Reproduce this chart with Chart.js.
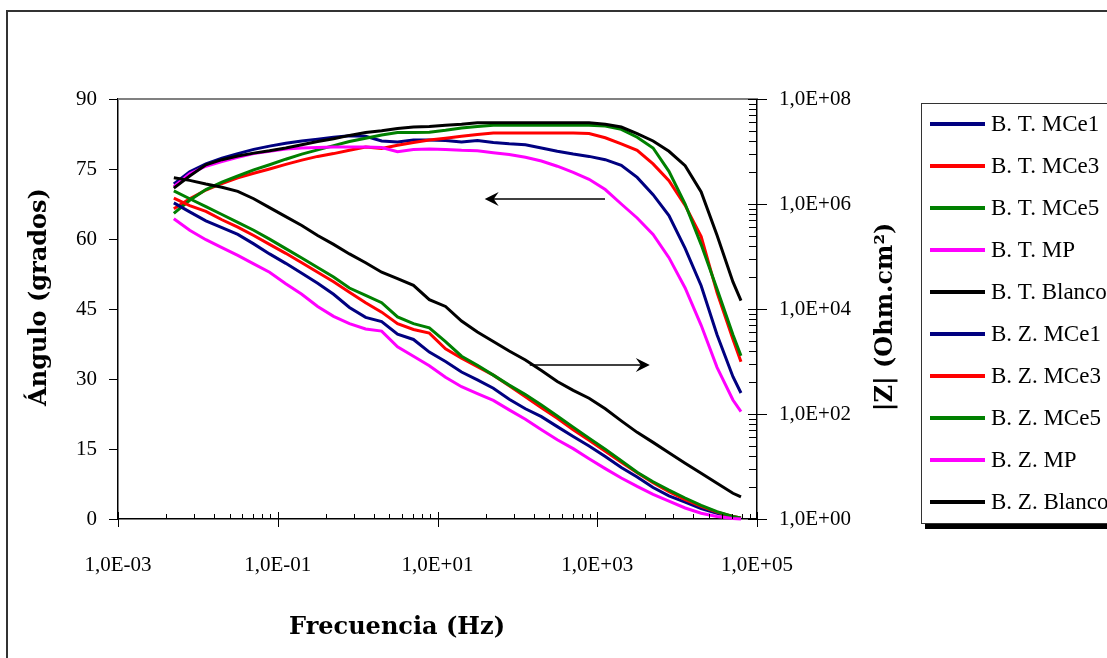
<!DOCTYPE html>
<html>
<head>
<meta charset="utf-8">
<script src="https://cdn.jsdelivr.net/npm/chart.js@4.4.1/dist/chart.umd.min.js"></script>
<style>
  html, body { margin: 0; padding: 0; background: #fff; }
</style>
</head>
<body>
<canvas id="bodeChart" width="1107" height="658"></canvas>
<script>
// frequency (Hz)
const frequency = [0.005, 0.0079, 0.0126, 0.02, 0.0316, 0.05, 0.079, 0.126, 0.2, 0.316,
  0.5, 0.79, 1.26, 2, 3.16, 5, 7.9, 12.6, 20, 31.6,
  50, 79, 126, 200, 316, 500, 790, 1260, 2000, 3160,
  5000, 7900, 12600, 20000, 31600, 50000, 63000];

// phase angle (grados)
const thetaMCe1 = [71.8, 74.4, 76.1, 77.3, 78.3, 79.2, 79.9, 80.5, 81.0, 81.4,
  81.8, 82.1, 82.0, 81.0, 80.8, 81.2, 81.2, 81.1, 80.8, 81.1,
  80.7, 80.4, 80.2, 79.5, 78.8, 78.2, 77.7, 77.0, 75.8, 73.2,
  69.5, 65.0, 58.0, 50.0, 39.5, 30.5, 27.0];
const thetaMCe3 = [66.5, 68.6, 70.5, 71.9, 73.1, 74.1, 75.0, 76.0, 76.9, 77.7,
  78.3, 79.0, 79.7, 79.4, 80.1, 80.7, 81.2, 81.6, 82.0, 82.4,
  82.7, 82.7, 82.7, 82.7, 82.7, 82.7, 82.6, 81.7, 80.4, 79.0,
  76.1, 72.5, 67.2, 60.5, 48.5, 38.5, 33.7];
const thetaMCe5 = [65.5, 68.3, 70.6, 72.2, 73.5, 74.8, 75.9, 77.1, 78.2, 79.1,
  80.0, 80.9, 81.6, 82.3, 82.8, 82.8, 82.9, 83.3, 83.8, 84.1,
  84.4, 84.4, 84.4, 84.4, 84.4, 84.4, 84.4, 84.2, 83.5, 81.8,
  79.5, 74.5, 67.5, 58.8, 49.3, 39.5, 35.0];
const thetaMP = [71.2, 74.0, 75.6, 76.6, 77.5, 78.3, 78.8, 79.3, 79.5, 79.6,
  79.7, 79.7, 79.7, 79.6, 78.7, 79.2, 79.3, 79.2, 79.0, 78.9,
  78.5, 78.1, 77.5, 76.7, 75.6, 74.3, 72.8, 70.6, 67.5, 64.5,
  61.0, 56.0, 49.5, 41.5, 32.5, 25.5, 23.0];
const thetaBlanco = [70.9, 73.5, 75.9, 77.0, 77.8, 78.4, 78.9, 79.5, 80.2, 80.9,
  81.5, 82.2, 82.8, 83.2, 83.7, 84.0, 84.1, 84.4, 84.6, 84.9,
  84.9, 84.9, 84.9, 84.9, 84.9, 84.9, 84.9, 84.6, 84.0, 82.6,
  81.0, 78.8, 75.7, 70.1, 60.8, 50.8, 46.8];

// |Z| (Ohm.cm2)
const zMCe1 = [1.05e6, 7.08e5, 4.79e5, 3.55e5, 2.63e5, 1.74e5, 1.12e5, 7.41e4, 4.79e4, 3.09e4,
  1.91e4, 1.07e4, 6920, 5750, 3310, 2630, 1510, 1000, 631, 447,
  309, 191, 126, 89.1, 57.5, 37.2, 24.5, 15.5, 9.55, 6.31,
  3.98, 2.75, 2.09, 1.58, 1.29, 1.10, 1.02];
const zMCe3 = [1.29e6, 9.33e5, 7.24e5, 5.01e5, 3.63e5, 2.51e5, 1.70e5, 1.15e5, 7.59e4, 5.01e4,
  3.31e4, 2.09e4, 1.32e4, 8710, 5250, 4070, 3470, 1740, 1150, 794,
  550, 347, 214, 132, 83.2, 50.1, 31.6, 19.5, 12.0, 7.59,
  4.90, 3.31, 2.34, 1.74, 1.35, 1.12, 1.05];
const zMCe5 = [1.78e6, 1.26e6, 8.91e5, 6.31e5, 4.47e5, 3.16e5, 2.14e5, 1.41e5, 9.33e4, 6.17e4,
  4.07e4, 2.51e4, 1.82e4, 1.32e4, 7080, 5250, 4370, 2400, 1260, 851,
  550, 355, 234, 148, 91.2, 56.2, 34.7, 21.4, 12.9, 7.76,
  5.13, 3.55, 2.51, 1.82, 1.38, 1.12, 1.05];
const zMP = [5.25e5, 3.16e5, 2.09e5, 1.48e5, 1.05e5, 7.24e4, 5.01e4, 3.02e4, 1.91e4, 1.12e4,
  7240, 5250, 4170, 3800, 1910, 1260, 832, 501, 331, 245,
  182, 120, 79.4, 50.1, 32.4, 21.9, 14.1, 9.12, 6.03, 4.17,
  2.95, 2.19, 1.62, 1.29, 1.12, 1.02, 1.00];
const zBlanco = [3.16e6, 2.82e6, 2.40e6, 2.09e6, 1.74e6, 1.26e6, 8.51e5, 5.75e5, 3.89e5, 2.51e5,
  1.70e5, 1.12e5, 7.59e4, 5.01e4, 3.80e4, 2.82e4, 1.51e4, 1.12e4, 5890, 3630,
  2400, 1580, 1070, 676, 417, 282, 200, 126, 74.1, 44.7,
  28.8, 18.2, 11.5, 7.41, 4.79, 3.09, 2.63];

const seriesLabels = ["B. T. MCe1", "B. T. MCe3", "B. T. MCe5", "B. T. MP", "B. T. Blanco",
  "B. Z. MCe1", "B. Z. MCe3", "B. Z. MCe5", "B. Z. MP", "B. Z. Blanco"];
const seriesValues = [thetaMCe1, thetaMCe3, thetaMCe5, thetaMP, thetaBlanco,
  zMCe1, zMCe3, zMCe5, zMP, zBlanco];
const seriesColors = ["#000080", "#ff0000", "#008000", "#ff00ff", "#000000",
  "#000080", "#ff0000", "#008000", "#ff00ff", "#000000"];

// axis ticks
const freqTicks = [1e-3, 1e-1, 1e1, 1e3, 1e5];
const freqTickLabels = ["1,0E-03", "1,0E-01", "1,0E+01", "1,0E+03", "1,0E+05"];
const angleTicks = [0, 15, 30, 45, 60, 75, 90];
const zTicks = [1, 1e2, 1e4, 1e6, 1e8];
const zTickLabels = ["1,0E+00", "1,0E+02", "1,0E+04", "1,0E+06", "1,0E+08"];
const minorFactors = [4, 9, 16, 25, 36, 49, 64, 81];

// arrows: [from Hz, to Hz, angle]
const arrowTheta = [1250, 39, 68.6];
const arrowZ = [143, 4550, 33.0];

const tickFont = { family: "Liberation Serif", size: 21 };
const titleFont = "bold 24px 'DejaVu Serif'";

const datasets = seriesLabels.map((label, i) => ({
  label: label,
  data: frequency.map((f, j) => ({ x: f, y: seriesValues[i][j] })),
  yAxisID: i < 5 ? "yAngle" : "yZ",
  borderColor: seriesColors[i],
  backgroundColor: seriesColors[i],
  borderWidth: 3,
  pointRadius: 0,
  tension: 0,
  fill: false,
  clip: 6,
  order: seriesLabels.length - i,
}));

function drawArrow(ctx, x1, x2, y) {
  const dir = x2 > x1 ? 1 : -1;
  ctx.beginPath();
  ctx.moveTo(x1, y);
  ctx.lineTo(x2 - dir * 6, y);
  ctx.stroke();
  ctx.beginPath();
  ctx.moveTo(x2, y);
  ctx.lineTo(x2 - dir * 14, y - 7);
  ctx.lineTo(x2 - dir * 9, y);
  ctx.lineTo(x2 - dir * 14, y + 7);
  ctx.closePath();
  ctx.fill();
}

const decorations = {
  id: "decorations",
  beforeDraw(chart) {
    const ctx = chart.ctx;
    ctx.save();
    ctx.fillStyle = "#fff";
    ctx.fillRect(0, 0, chart.width, chart.height);
    ctx.restore();
  },
  afterDraw(chart) {
    const ctx = chart.ctx;
    const area = chart.chartArea;
    const sx = chart.scales.x, sa = chart.scales.yAngle, sz = chart.scales.yZ;
    ctx.save();

    // outer frame
    ctx.strokeStyle = "#333";
    ctx.lineWidth = 2;
    ctx.beginPath();
    ctx.moveTo(7, chart.height);
    ctx.lineTo(7, 11);
    ctx.lineTo(chart.width, 11);
    ctx.stroke();

    // top edge of plot area
    ctx.strokeStyle = "#808080";
    ctx.lineWidth = 2;
    ctx.beginPath();
    ctx.moveTo(area.left, area.top);
    ctx.lineTo(area.right, area.top);
    ctx.stroke();

    // tick marks
    ctx.strokeStyle = "#000";
    ctx.lineWidth = 1;
    ctx.beginPath();
    freqTicks.forEach((v, i) => {
      const px = Math.round(sx.getPixelForValue(v)) + 0.5;
      ctx.moveTo(px, area.bottom - 7);
      ctx.lineTo(px, area.bottom + 8);
      if (i < freqTicks.length - 1) {
        minorFactors.forEach(k => {
          const mx = Math.round(sx.getPixelForValue(v * k)) + 0.5;
          ctx.moveTo(mx, area.bottom - 5);
          ctx.lineTo(mx, area.bottom);
        });
      }
    });
    angleTicks.forEach(v => {
      const py = Math.round(sa.getPixelForValue(v)) + 0.5;
      ctx.moveTo(area.left - 9, py);
      ctx.lineTo(area.left, py);
    });
    zTicks.forEach((v, i) => {
      const py = Math.round(sz.getPixelForValue(v)) + 0.5;
      ctx.moveTo(area.right - 9, py);
      ctx.lineTo(area.right + 10, py);
      if (i < zTicks.length - 1) {
        minorFactors.forEach(k => {
          const my = Math.round(sz.getPixelForValue(v * k)) + 0.5;
          ctx.moveTo(area.right - 8, my);
          ctx.lineTo(area.right, my);
        });
      }
    });
    ctx.stroke();

    // arrows
    ctx.strokeStyle = "#000";
    ctx.fillStyle = "#000";
    ctx.lineWidth = 1.5;
    drawArrow(ctx, sx.getPixelForValue(arrowTheta[0]), sx.getPixelForValue(arrowTheta[1]),
      Math.round(sa.getPixelForValue(arrowTheta[2])));
    drawArrow(ctx, sx.getPixelForValue(arrowZ[0]), sx.getPixelForValue(arrowZ[1]),
      Math.round(sa.getPixelForValue(arrowZ[2])));

    // axis titles
    ctx.fillStyle = "#000";
    ctx.font = titleFont;
    ctx.textAlign = "center";
    ctx.textBaseline = "middle";
    ctx.fillText("Frecuencia (Hz)", 397, 628);
    ctx.save();
    ctx.translate(40, 297);
    ctx.rotate(-Math.PI / 2);
    ctx.fillText("Ángulo (grados)", 0, 0);
    ctx.restore();
    ctx.save();
    ctx.translate(886, 317);
    ctx.rotate(-Math.PI / 2);
    ctx.fillText("|Z| (Ohm.cm²)", 0, 0);
    ctx.restore();

    // legend
    const lx = 921, ly = 103, lh = 420;
    ctx.fillStyle = "#000";
    ctx.fillRect(lx + 4, ly + lh, chart.width, 6);
    ctx.fillStyle = "#fff";
    ctx.fillRect(lx, ly, chart.width, lh);
    ctx.strokeStyle = "#333";
    ctx.lineWidth = 1;
    ctx.strokeRect(lx + 0.5, ly + 0.5, chart.width, lh);
    ctx.font = "23px 'Liberation Serif'";
    ctx.textAlign = "left";
    ctx.textBaseline = "middle";
    chart.data.datasets.forEach((ds, i) => {
      const y = ly + 21 + i * 42;
      ctx.strokeStyle = ds.borderColor;
      ctx.lineWidth = 4;
      ctx.beginPath();
      ctx.moveTo(930, y);
      ctx.lineTo(985, y);
      ctx.stroke();
      ctx.fillStyle = "#000";
      ctx.fillText(ds.label, 991, y + 1);
    });
    ctx.restore();
  },
};

new Chart(document.getElementById("bodeChart").getContext("2d"), {
  type: "line",
  data: { datasets: datasets },
  options: {
    responsive: false,
    animation: false,
    layout: { padding: { top: 99, left: 0, right: 0, bottom: 0 } },
    plugins: { legend: { display: false }, tooltip: { enabled: false } },
    scales: {
      x: {
        type: "logarithmic",
        position: "bottom",
        min: 1e-3,
        max: 1e5,
        afterBuildTicks: s => { s.ticks = freqTicks.map(v => ({ value: v })); },
        afterFit: s => { s.height = 139; },
        ticks: {
          callback: (v, i) => freqTickLabels[i],
          font: tickFont,
          color: "#000",
          padding: 26,
          maxRotation: 0,
          autoSkip: false,
        },
        grid: { display: false },
        border: { display: true, color: "#000", width: 1.5 },
      },
      yAngle: {
        type: "linear",
        position: "left",
        min: 0,
        max: 90,
        afterBuildTicks: s => { s.ticks = angleTicks.map(v => ({ value: v })); },
        afterFit: s => { s.width = 118; },
        ticks: { font: tickFont, color: "#000", padding: 13 },
        grid: { display: false },
        border: { display: true, color: "#000", width: 1.5 },
      },
      yZ: {
        type: "logarithmic",
        position: "right",
        min: 1,
        max: 1e8,
        afterBuildTicks: s => { s.ticks = zTicks.map(v => ({ value: v })); },
        afterFit: s => { s.width = 350; },
        ticks: {
          callback: (v, i) => zTickLabels[i],
          font: tickFont,
          color: "#000",
          padding: 14,
        },
        grid: { display: false },
        border: { display: true, color: "#000", width: 1.5 },
      },
    },
  },
  plugins: [decorations],
});
</script>
</body>
</html>
